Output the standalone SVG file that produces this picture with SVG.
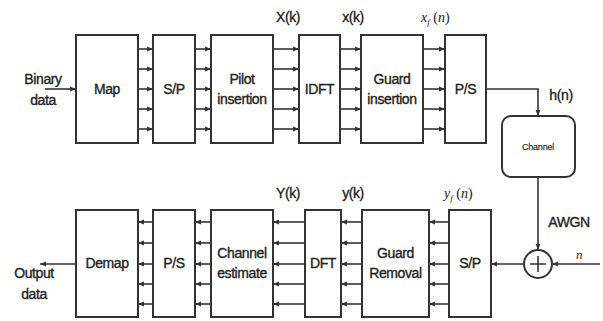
<svg xmlns="http://www.w3.org/2000/svg" width="603" height="321" viewBox="0 0 603 321">
<style>
.box{fill:#fff;stroke:#333;stroke-width:2}
.ln{fill:none;stroke:#333;stroke-width:1.6}
.t{font-family:"Liberation Sans",Arial,sans-serif;font-size:14px;letter-spacing:-0.4px;fill:#222;stroke:#222;stroke-width:0.35;text-anchor:middle}
.s{font-family:"Liberation Serif","Times New Roman",serif;font-style:italic;fill:#222}
</style>
<defs>
<marker id="ah" viewBox="0 0 10 10" refX="10" refY="5" markerWidth="6" markerHeight="6" orient="auto" markerUnits="userSpaceOnUse">
<path d="M0,1 L10,5 L0,9 Z" fill="#333"/>
</marker>
</defs>
<rect width="603" height="321" fill="#fff"/>

<g id="connectors">
<line class="ln" x1="45" y1="89" x2="76" y2="89" marker-end="url(#ah)"/>
<g id="map-sp">
<line class="ln" x1="138" y1="49" x2="153" y2="49" marker-end="url(#ah)"/>
<line class="ln" x1="138" y1="69" x2="153" y2="69" marker-end="url(#ah)"/>
<line class="ln" x1="138" y1="89" x2="153" y2="89" marker-end="url(#ah)"/>
<line class="ln" x1="138" y1="109" x2="153" y2="109" marker-end="url(#ah)"/>
<line class="ln" x1="138" y1="129" x2="153" y2="129" marker-end="url(#ah)"/>
</g>
<g id="sp-pilot">
<line class="ln" x1="195" y1="49" x2="211" y2="49" marker-end="url(#ah)"/>
<line class="ln" x1="195" y1="69" x2="211" y2="69" marker-end="url(#ah)"/>
<line class="ln" x1="195" y1="89" x2="211" y2="89" marker-end="url(#ah)"/>
<line class="ln" x1="195" y1="109" x2="211" y2="109" marker-end="url(#ah)"/>
<line class="ln" x1="195" y1="129" x2="211" y2="129" marker-end="url(#ah)"/>
</g>
<g id="pilot-idft">
<line class="ln" x1="273" y1="49" x2="299" y2="49" marker-end="url(#ah)"/>
<line class="ln" x1="273" y1="69" x2="299" y2="69" marker-end="url(#ah)"/>
<line class="ln" x1="273" y1="89" x2="299" y2="89" marker-end="url(#ah)"/>
<line class="ln" x1="273" y1="109" x2="299" y2="109" marker-end="url(#ah)"/>
<line class="ln" x1="273" y1="129" x2="299" y2="129" marker-end="url(#ah)"/>
</g>
<g id="idft-guard">
<line class="ln" x1="340" y1="49" x2="361" y2="49" marker-end="url(#ah)"/>
<line class="ln" x1="340" y1="69" x2="361" y2="69" marker-end="url(#ah)"/>
<line class="ln" x1="340" y1="89" x2="361" y2="89" marker-end="url(#ah)"/>
<line class="ln" x1="340" y1="109" x2="361" y2="109" marker-end="url(#ah)"/>
<line class="ln" x1="340" y1="129" x2="361" y2="129" marker-end="url(#ah)"/>
</g>
<g id="guard-ps">
<line class="ln" x1="423" y1="49" x2="445" y2="49" marker-end="url(#ah)"/>
<line class="ln" x1="423" y1="69" x2="445" y2="69" marker-end="url(#ah)"/>
<line class="ln" x1="423" y1="89" x2="445" y2="89" marker-end="url(#ah)"/>
<line class="ln" x1="423" y1="109" x2="445" y2="109" marker-end="url(#ah)"/>
<line class="ln" x1="423" y1="129" x2="445" y2="129" marker-end="url(#ah)"/>
</g>
<polyline class="ln" points="486,89 538,89 538,116" marker-end="url(#ah)"/>
<line class="ln" x1="538" y1="177" x2="538" y2="250" marker-end="url(#ah)"/>
<line class="ln" x1="600" y1="264" x2="552" y2="264" marker-end="url(#ah)"/>
<line class="ln" x1="524" y1="264" x2="491" y2="264" marker-end="url(#ah)"/>
<g id="sp-guardrem">
<line class="ln" x1="449" y1="222" x2="429" y2="222" marker-end="url(#ah)"/>
<line class="ln" x1="449" y1="243" x2="429" y2="243" marker-end="url(#ah)"/>
<line class="ln" x1="449" y1="264" x2="429" y2="264" marker-end="url(#ah)"/>
<line class="ln" x1="449" y1="284" x2="429" y2="284" marker-end="url(#ah)"/>
<line class="ln" x1="449" y1="304" x2="429" y2="304" marker-end="url(#ah)"/>
</g>
<g id="guardrem-dft">
<line class="ln" x1="362" y1="222" x2="341" y2="222" marker-end="url(#ah)"/>
<line class="ln" x1="362" y1="243" x2="341" y2="243" marker-end="url(#ah)"/>
<line class="ln" x1="362" y1="264" x2="341" y2="264" marker-end="url(#ah)"/>
<line class="ln" x1="362" y1="284" x2="341" y2="284" marker-end="url(#ah)"/>
<line class="ln" x1="362" y1="304" x2="341" y2="304" marker-end="url(#ah)"/>
</g>
<g id="dft-chest">
<line class="ln" x1="305" y1="222" x2="273" y2="222" marker-end="url(#ah)"/>
<line class="ln" x1="305" y1="243" x2="273" y2="243" marker-end="url(#ah)"/>
<line class="ln" x1="305" y1="264" x2="273" y2="264" marker-end="url(#ah)"/>
<line class="ln" x1="305" y1="284" x2="273" y2="284" marker-end="url(#ah)"/>
<line class="ln" x1="305" y1="304" x2="273" y2="304" marker-end="url(#ah)"/>
</g>
<g id="chest-ps">
<line class="ln" x1="211" y1="222" x2="195" y2="222" marker-end="url(#ah)"/>
<line class="ln" x1="211" y1="243" x2="195" y2="243" marker-end="url(#ah)"/>
<line class="ln" x1="211" y1="264" x2="195" y2="264" marker-end="url(#ah)"/>
<line class="ln" x1="211" y1="284" x2="195" y2="284" marker-end="url(#ah)"/>
<line class="ln" x1="211" y1="304" x2="195" y2="304" marker-end="url(#ah)"/>
</g>
<g id="ps-demap">
<line class="ln" x1="153" y1="222" x2="138" y2="222" marker-end="url(#ah)"/>
<line class="ln" x1="153" y1="243" x2="138" y2="243" marker-end="url(#ah)"/>
<line class="ln" x1="153" y1="264" x2="138" y2="264" marker-end="url(#ah)"/>
<line class="ln" x1="153" y1="284" x2="138" y2="284" marker-end="url(#ah)"/>
<line class="ln" x1="153" y1="304" x2="138" y2="304" marker-end="url(#ah)"/>
</g>
<line class="ln" x1="76" y1="264" x2="40" y2="264" marker-end="url(#ah)"/>
</g>

<g id="binary-data">
<text class="t" x="43" y="84">Binary</text>
<text class="t" x="43" y="105">data</text>
</g>
<g id="map"><rect class="box" x="76" y="35" width="62" height="108"/><text class="t" x="107" y="94">Map</text></g>
<g id="sp-top"><rect class="box" x="153" y="35" width="42" height="108"/><text class="t" x="174" y="94">S/P</text></g>
<g id="pilot"><rect class="box" x="211" y="35" width="62" height="108"/><text class="t" x="242" y="84">Pilot</text><text class="t" x="242" y="104">insertion</text></g>
<g id="idft"><rect class="box" x="299" y="35" width="41" height="108"/><text class="t" x="319.5" y="94">IDFT</text></g>
<g id="guard-ins"><rect class="box" x="361" y="35" width="62" height="108"/><text class="t" x="392" y="84">Guard</text><text class="t" x="392" y="104">insertion</text></g>
<g id="ps-top"><rect class="box" x="445" y="35" width="41" height="108"/><text class="t" x="465.5" y="94">P/S</text></g>
<g id="channel"><rect class="box" x="502" y="116" width="73" height="61" rx="9"/><text class="t" x="538" y="150" style="font-size:9px;stroke-width:0.15;letter-spacing:-0.2px">Channel</text></g>
<g id="adder"><circle class="box" cx="538" cy="264" r="14"/><path class="ln" d="M530,264 H546 M538,256 V272"/></g>

<g id="demap"><rect class="box" x="76" y="210" width="62" height="107"/><text class="t" x="107" y="268">Demap</text></g>
<g id="ps-bot"><rect class="box" x="153" y="210" width="42" height="107"/><text class="t" x="174" y="268">P/S</text></g>
<g id="chest"><rect class="box" x="211" y="210" width="62" height="107"/><text class="t" x="242" y="258">Channel</text><text class="t" x="242" y="278">estimate</text></g>
<g id="dft"><rect class="box" x="305" y="210" width="36" height="107"/><text class="t" x="323" y="268">DFT</text></g>
<g id="guard-rem"><rect class="box" x="362" y="210" width="67" height="107"/><text class="t" x="395.5" y="258">Guard</text><text class="t" x="395.5" y="278">Removal</text></g>
<g id="sp-bot"><rect class="box" x="449" y="210" width="42" height="107"/><text class="t" x="470" y="268">S/P</text></g>
<g id="output-data">
<text class="t" x="34" y="278">Output</text>
<text class="t" x="34" y="299">data</text>
</g>

<g id="labels">
<text class="t" x="288" y="22">X(k)</text>
<text class="t" x="353" y="22">x(k)</text>
<text class="s" x="421" y="22" font-size="14">x<tspan font-size="9" dy="3">f</tspan><tspan dy="-3" font-style="normal"> (</tspan>n<tspan font-style="normal">)</tspan></text>
<text class="t" x="561" y="100">h(n)</text>
<text class="t" x="288" y="198">Y(k)</text>
<text class="t" x="353" y="198">y(k)</text>
<text class="s" x="444" y="198" font-size="14">y<tspan font-size="9" dy="3">f</tspan><tspan dy="-3" font-style="normal"> (</tspan>n<tspan font-style="normal">)</tspan></text>
<text class="t" x="569" y="227">AWGN</text>
<text class="s" x="576" y="259" font-size="13">n</text>
</g>
</svg>
